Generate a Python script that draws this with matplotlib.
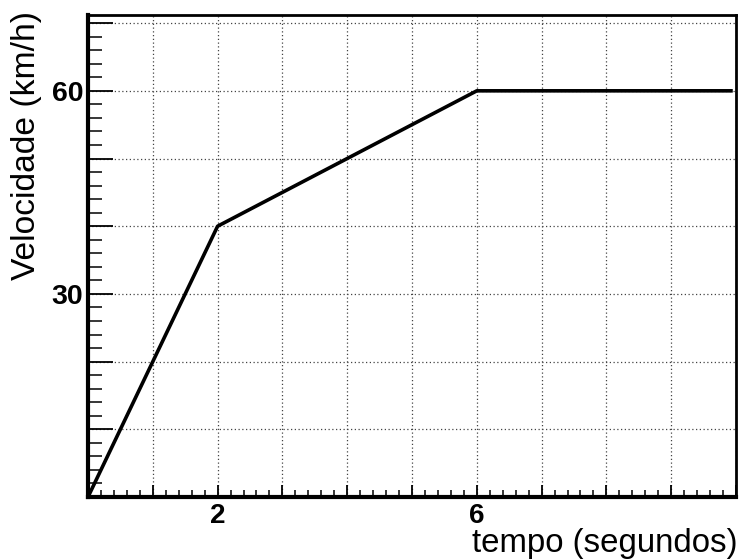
import matplotlib
matplotlib.use("Agg")
import matplotlib.pyplot as plt
from matplotlib.ticker import MultipleLocator, FixedFormatter, FixedLocator

# Data
tempo = [0, 2, 6, 9.95]
velocidade = [0, 40, 60, 60]
x_major = [0, 1, 2, 3, 4, 5, 6, 7, 8, 9, 10]
x_labels = ["", "", "2", "", "", "", "6", "", "", "", ""]
y_major = [0, 10, 20, 30, 40, 50, 60, 70]
y_labels = ["", "", "", "30", "", "", "60", ""]

plt.rcParams['font.family'] = ['Liberation Sans', 'DejaVu Sans']

fig = plt.figure(figsize=(7.43, 5.6), dpi=100)
ax = fig.add_axes([88/743, 1 - 497/560, (736-88)/743, (497-15)/560])

ax.plot(tempo, velocidade, color='black', lw=2.6, solid_capstyle='butt', zorder=3)
ax.axhline(0, color='#1a1a6e', lw=1.5, zorder=2)

ax.set_xlim(0, 10)
ax.set_ylim(0, 71.2)

ax.xaxis.set_major_locator(FixedLocator(x_major))
ax.xaxis.set_major_formatter(FixedFormatter(x_labels))
ax.xaxis.set_minor_locator(MultipleLocator(0.2))
ax.yaxis.set_major_locator(FixedLocator(y_major))
ax.yaxis.set_major_formatter(FixedFormatter(y_labels))
ax.yaxis.set_minor_locator(MultipleLocator(2))

ax.grid(True, which='major', linestyle=(0, (1, 2)), color='#444444', lw=0.9)

ax.tick_params(axis='x', which='major', direction='in', length=9, width=1.3,
               labelsize=20, pad=4, top=False)
ax.tick_params(axis='x', which='minor', direction='in', length=5, width=1.1, top=False)
ax.tick_params(axis='y', which='major', direction='in', length=18, width=1.3,
               labelsize=20.5, pad=3.5, right=False)
ax.tick_params(axis='y', which='minor', direction='in', length=10, width=1.1, right=False)
for lab in ax.get_xticklabels() + ax.get_yticklabels():
    lab.set_fontweight('bold')

for side in ['left', 'bottom']:
    ax.spines[side].set_linewidth(3)
for side in ['top', 'right']:
    ax.spines[side].set_linewidth(2)

fig.text(738/743, 1 - 552/560, "tempo (segundos)", ha='right', va='baseline', fontsize=23.8)
fig.text(27/743, 1 - 11/560, "Velocidade (km/h)", ha='center', va='top', rotation=90, fontsize=24.2)

fig.savefig("out.png", dpi=100)
